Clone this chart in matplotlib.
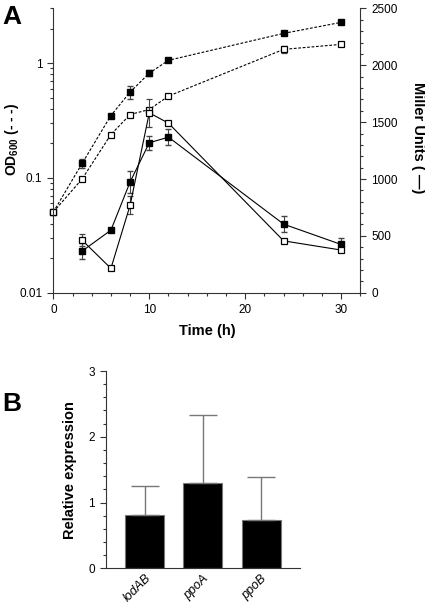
import numpy as np
import matplotlib
matplotlib.use('Agg')
import matplotlib.pyplot as plt
from matplotlib.ticker import MultipleLocator, LogLocator, FixedLocator, NullFormatter

plt.rcParams['font.family'] = ['Liberation Sans', 'DejaVu Sans']
plt.rcParams['mathtext.fontset'] = 'custom'
plt.rcParams['mathtext.rm'] = 'Liberation Sans'
plt.rcParams['mathtext.bf'] = 'Liberation Sans:bold'

# panel A data
time = [0, 3, 6, 8, 10, 12, 24, 30]
od_filled = [0.0505, 0.134, 0.35, 0.56, 0.82, 1.06, 1.82, 2.27]
od_filled_err = [0, 0.012, 0, 0.07, 0.05, 0, 0.05, 0]
od_open = [0.0505, 0.098, 0.239, 0.357, 0.395, 0.517, 1.32, 1.46]
od_open_err = [0, 0, 0, 0, 0, 0, 0.1, 0.06]

time_mu = [3, 6, 8, 10, 12, 24, 30]
mu_filled = [366, 550, 974, 1319, 1368, 603, 424]
mu_filled_err = [70, 0, 95, 60, 70, 73, 60]
mu_open = [462, 214, 769, 1582, 1491, 456, 375]
mu_open_err = [50, 15, 80, 125, 0, 15, 15]

# panel B data
genes = ['lodAB', 'ppoA', 'ppoB']
rel_expr = [0.81, 1.30, 0.74]
rel_err = [0.44, 1.03, 0.65]

fig = plt.figure(figsize=(4.25, 6.05), dpi=100)

# ---- panel A ----
ax = fig.add_axes([0.1255, 0.5162, 0.7225, 0.4698])
ax2 = ax.twinx()

lw = 0.8
ms = 4.6
common = dict(fmt='s', color='black', lw=lw, ms=ms, mec='black', ecolor='#444444',
              elinewidth=0.8, capsize=2.5, clip_on=False)
ax.errorbar(time, od_filled, yerr=od_filled_err, ls=(0, (2.5, 1.5)), mfc='black', **common)
ax.errorbar(time, od_open, yerr=od_open_err, ls=(0, (2.5, 1.5)), mfc='white', mew=0.9, **common)
ax2.errorbar(time_mu, mu_filled, yerr=mu_filled_err, ls='-', mfc='black', **common)
ax2.errorbar(time_mu, mu_open, yerr=mu_open_err, ls='-', mfc='white', mew=0.9, **common)

ax.set_yscale('log')
ax.set_ylim(0.01, 3)
ax.set_xlim(0, 32)
ax2.set_ylim(0, 2500)

ax.yaxis.set_major_locator(FixedLocator([0.01, 0.1, 1]))
ax.set_yticklabels(['0.01', '0.1', '1'])
ax.yaxis.set_minor_locator(LogLocator(base=10, subs=np.arange(2, 10)))
ax.yaxis.set_minor_formatter(NullFormatter())
ax.xaxis.set_major_locator(MultipleLocator(10))
ax.xaxis.set_minor_locator(MultipleLocator(2))
ax2.yaxis.set_major_locator(MultipleLocator(500))
ax2.yaxis.set_minor_locator(MultipleLocator(100))

for a in (ax, ax2):
    a.spines['top'].set_visible(False)
    a.tick_params(which='major', length=4.5, width=0.8, labelsize=8.5, color='#333333')
    a.tick_params(which='minor', length=2.5, width=0.8, color='#333333')
ax.spines['right'].set_visible(False)
ax2.spines['left'].set_visible(False)
ax2.spines['bottom'].set_visible(False)
for s in ['left', 'bottom']:
    ax.spines[s].set_color('#333333')
ax2.spines['right'].set_color('#333333')

ax.set_xlabel('Time (h)', fontsize=10.5, fontweight='bold', labelpad=6)
ax.set_ylabel(r'OD$_{\mathbf{600}}$ (- - -)', fontsize=10, fontweight='bold')
ax.yaxis.set_label_coords(-0.105, 0.54)
ax2.set_ylabel('Miller Units ( \u2014)', fontsize=10.5, fontweight='bold', rotation=270,
               va='center')
ax2.yaxis.set_label_coords(1.186, 0.545)

fig.text(0.005, 0.992, 'A', fontsize=19, fontweight='bold', va='top', ha='left')

# ---- panel B ----
bx = fig.add_axes([0.249, 0.0607, 0.457, 0.326])
xpos = np.arange(len(genes))
bx.bar(xpos, rel_expr, width=0.67, color='black', edgecolor='#777777', lw=0.8)
bx.errorbar(xpos, rel_expr, yerr=[np.zeros(len(rel_err)), rel_err], fmt='none',
            ecolor='#777777', elinewidth=1.0, capsize=10.4, capthick=1.0)
bx.set_xlim(-0.67, 2.67)
bx.set_ylim(0, 3)
bx.yaxis.set_major_locator(MultipleLocator(1))
bx.yaxis.set_minor_locator(MultipleLocator(0.2))
bx.set_xticks(xpos)
bx.set_xticklabels(genes, rotation=45, ha='right', rotation_mode='anchor', style='italic', fontsize=9)
bx.tick_params(axis='x', length=0, pad=3)
bx.tick_params(axis='y', which='major', length=4.5, width=0.8, labelsize=8.5, color='#333333')
bx.tick_params(axis='y', which='minor', length=2.5, width=0.8, color='#333333')
bx.spines['top'].set_visible(False)
bx.spines['right'].set_visible(False)
bx.spines['left'].set_color('#333333')
bx.spines['bottom'].set_color('#333333')
bx.set_ylabel('Relative expression', fontsize=10.5, fontweight='bold', labelpad=8)

fig.text(0.005, 0.352, 'B', fontsize=19, fontweight='bold', va='top', ha='left')

fig.savefig('out.png', dpi=100)
